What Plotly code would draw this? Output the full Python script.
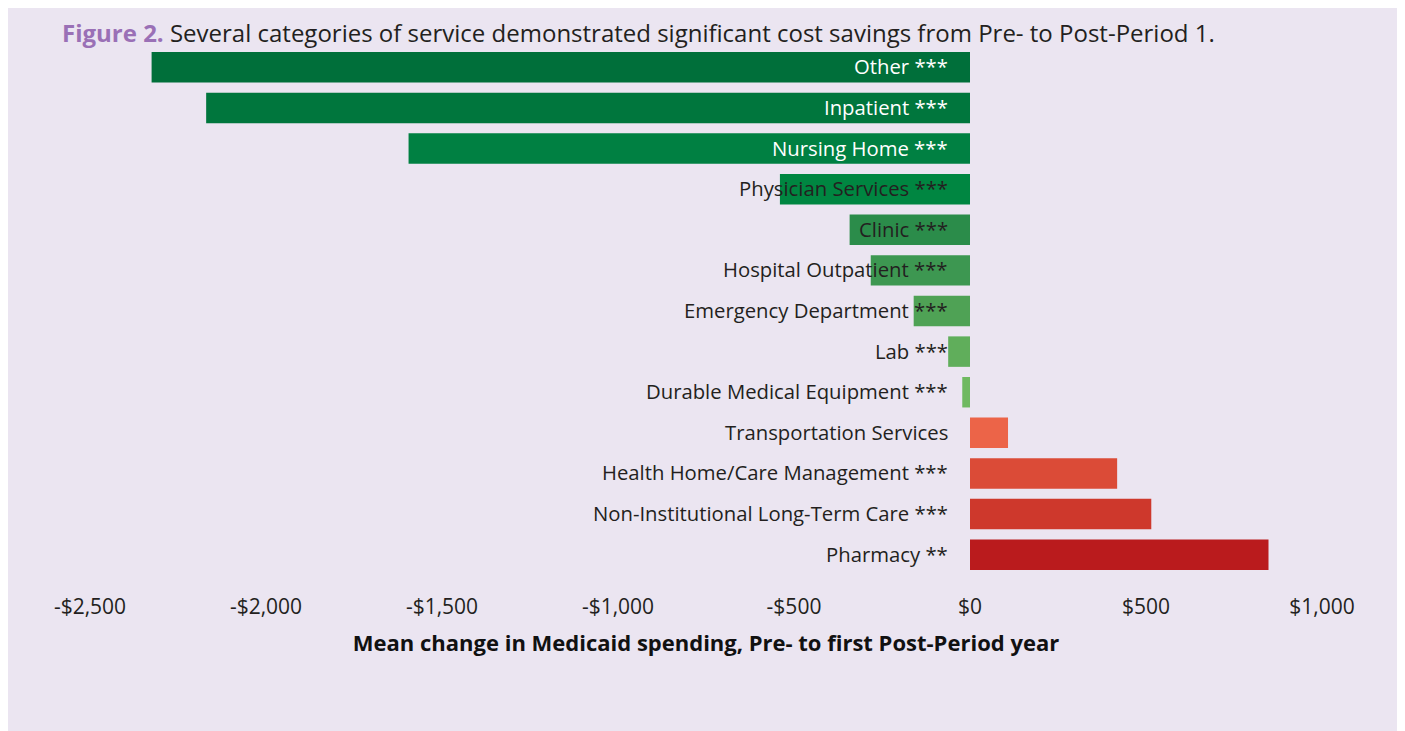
import plotly.graph_objects as go

categories = [
    "Other ***", "Inpatient ***", "Nursing Home ***", "Physician Services ***",
    "Clinic ***", "Hospital Outpatient ***", "Emergency Department ***", "Lab ***",
    "Durable Medical Equipment ***", "Transportation Services",
    "Health Home/Care Management ***", "Non-Institutional Long-Term Care ***", "Pharmacy **",
]
values = [-2325, -2170, -1595, -540, -342, -282, -160, -62, -22, 108, 418, 515, 848]
bar_colors = [
    "#006F3A", "#00763D", "#008042", "#008641", "#2B8C4A", "#3D9751", "#4FA255",
    "#60AE5B", "#6FB961", "#EC6448", "#DB4B37", "#CE382C", "#BA1B1D",
]
label_colors = ["white"] * 3 + ["#231F20"] * 10
tick_vals = [-2500, -2000, -1500, -1000, -500, 0, 500, 1000]
tick_text = ["-$2,500", "-$2,000", "-$1,500", "-$1,000", "-$500", "$0", "$500", "$1,000"]

BG = "#EBE5F1"
FONT = "Open Sans"

fig = go.Figure(go.Bar(
    x=values, y=categories, orientation="h",
    marker=dict(color=bar_colors, line=dict(width=0)),
    width=0.75, hoverinfo="x+y",
))

for cat, col in zip(categories, label_colors):
    fig.add_annotation(x=0, y=cat, xref="x", yref="y", text=cat, showarrow=False,
                       xanchor="right", xshift=-20, yshift=1,
                       font=dict(family=FONT, size=20.3, color=col))

# figure is drawn inside the page body (8px offset), so sizes are reduced by 8
W, H, L, T = 1232, 528, 82, 39
FW, FH = 1397, 723
B = FH - T - H
R = FW - L - W

fig.add_annotation(
    xref="paper", yref="paper", x=(52 - L) / W, y=1 + (T - 25) / H,
    xanchor="left", yanchor="middle",
    text="<span style='color:#9A70B6'><b>Figure 2.</b></span> Several categories of service demonstrated significant cost savings from Pre- to Post-Period 1.",
    showarrow=False, font=dict(family=FONT, size=24, color="#231F20"),
)

# lavender panel with white frame on the right
fig.add_shape(type="rect", xref="paper", yref="paper", layer="below",
              x0=(0 - L) / W, x1=(1390 - L) / W,
              y0=-B / H, y1=(H + T) / H,
              fillcolor=BG, line=dict(width=0))

fig.update_layout(
    width=FW, height=FH,
    margin=dict(l=L, r=R, t=T, b=B),
    paper_bgcolor="white", plot_bgcolor="rgba(0,0,0,0)",
    showlegend=False, bargap=0.25,
    font=dict(family=FONT, color="#231F20"),
    xaxis=dict(range=[-2500, 1000], tickvals=tick_vals, ticktext=tick_text,
               showgrid=False, zeroline=False, showline=False,
               tickfont=dict(family=FONT, size=21, color="#231F20"),
               ticklabelstandoff=17,
               title=dict(text="<b>Mean change in Medicaid spending, Pre- to first Post-Period year</b>",
                          font=dict(family=FONT, size=22, color="#111"), standoff=16)),
    yaxis=dict(autorange="reversed", showticklabels=False, showgrid=False,
               zeroline=False, showline=False, categoryorder="array",
               categoryarray=categories),
)

fig.write_html("out.html")
